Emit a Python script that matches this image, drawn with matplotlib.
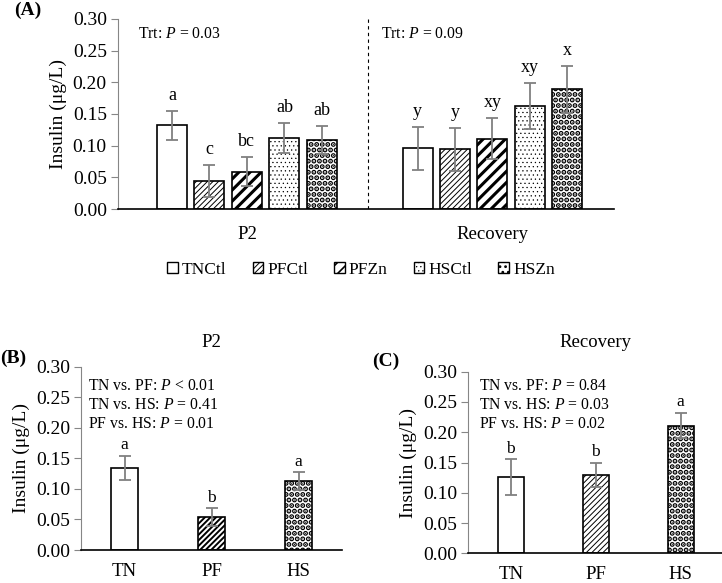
import numpy as np
import matplotlib
matplotlib.use('Agg')
import matplotlib.pyplot as plt
from matplotlib.patches import Patch

plt.rcParams['font.family'] = ['Liberation Serif', 'DejaVu Serif']
plt.rcParams['mathtext.fontset'] = 'custom'
plt.rcParams['mathtext.rm'] = 'Liberation Serif'
plt.rcParams['mathtext.it'] = 'Liberation Serif:italic'

# ---- data ----
treatments = ['TNCtl', 'PFCtl', 'PFZn', 'HSCtl', 'HSZn']
periods = ['P2', 'Recovery']
a_p2 = [0.132, 0.044, 0.059, 0.112, 0.109]
a_p2_err = [0.023, 0.025, 0.023, 0.024, 0.022]
a_p2_letters = ['a', 'c', 'bc', 'ab', 'ab']
a_rec = [0.096, 0.094, 0.111, 0.163, 0.189]
a_rec_err = [0.034, 0.034, 0.032, 0.036, 0.037]
a_rec_letters = ['y', 'y', 'xy', 'xy', 'x']
a_pvals = ['Trt: $\\it{P}$ = 0.03', 'Trt: $\\it{P}$ = 0.09']

groups = ['TN', 'PF', 'HS']
b_vals = [0.134, 0.054, 0.113]
b_err = [0.020, 0.014, 0.014]
b_letters = ['a', 'b', 'a']
b_text = ['TN vs. PF: $\\it{P}$ < 0.01', 'TN vs. HS: $\\it{P}$ = 0.41', 'PF vs. HS: $\\it{P}$ = 0.01']
c_vals = [0.126, 0.130, 0.211]
c_err = [0.029, 0.020, 0.021]
c_letters = ['b', 'b', 'a']
c_text = ['TN vs. PF: $\\it{P}$ = 0.84', 'TN vs. HS: $\\it{P}$ = 0.03', 'PF vs. HS: $\\it{P}$ = 0.02']

# hatch style: (hatch, hatch linewidth)
styles = {
    'TNCtl': ('', 1.0),
    'PFCtl': ('//////', 0.7),
    'PFZn': ('///', 2.2),
    'PFB': ('//////', 1.4),
    'HSCtl': ('....', 0.4),
    'HSZn': ('...', 2.6),
}

ERR_COLOR = '#808080'
AX_COLOR = '#868686'
TICK_FS = 14
TXT_FS = 11.3


def draw_bar(ax, x, h, err, width, style):
    hatch, hlw = styles[style]
    b = ax.bar(x, h, width=width, color='white', edgecolor='black',
               linewidth=1.2, hatch=hatch, zorder=2)[0]
    if hasattr(b, 'set_hatch_linewidth'):
        b.set_hatch_linewidth(hlw)
    ax.errorbar(x, h, yerr=err, fmt='none', ecolor=ERR_COLOR, elinewidth=1.3,
                capsize=4, capthick=1.3, zorder=3)


def style_axes(ax, xpad):
    ax.set_ylim(0, 0.30)
    ticks = np.arange(0, 0.31, 0.05)
    ax.set_yticks(ticks)
    ax.set_yticklabels([f'{v:.2f}' for v in ticks], fontsize=TICK_FS)
    ax.spines['top'].set_visible(False)
    ax.spines['right'].set_visible(False)
    ax.spines['left'].set_color(AX_COLOR)
    ax.spines['bottom'].set_color('black')
    ax.spines['bottom'].set_linewidth(1.2)
    ax.tick_params(axis='y', direction='out', length=5, color=AX_COLOR, pad=3)
    ax.tick_params(axis='x', length=0, labelsize=13.5, pad=xpad)
    ax.set_ylabel('Insulin (μg/L)', fontsize=14, labelpad=4)


fig = plt.figure(figsize=(7.22, 5.83), dpi=100)

# ---- panel A ----
axA = fig.add_axes([0.1634, 0.6415, 0.687, 0.326])
step = 0.151
w = 0.121
for g, (vals, errs, lets) in enumerate([(a_p2, a_p2_err, a_p2_letters),
                                         (a_rec, a_rec_err, a_rec_letters)]):
    center = 0.52 + g * 0.99
    for i, t in enumerate(treatments):
        x = center + (i - 2) * step
        draw_bar(axA, x, vals[i], errs[i], w, t)
        axA.annotate(lets[i], (x, vals[i] + errs[i]), xytext=(0, 5),
                     textcoords='offset points', ha='center', va='bottom',
                     fontsize=13)
axA.set_xlim(0, 2)
axA.set_xticks([0.52, 1.51])
axA.set_xticklabels(periods)
axA.axvline(1.01, color='black', linestyle=(0, (3, 3)), linewidth=0.8)
axA.text(0.08, 0.276, a_pvals[0], fontsize=TXT_FS, va='center')
axA.text(1.06, 0.276, a_pvals[1], fontsize=TXT_FS, va='center')
style_axes(axA, 12)
fig.text(0.02, 0.982, '(A)', fontsize=14, fontweight='bold', va='center')

handles = []
for t in treatments:
    p = Patch(facecolor='white', edgecolor='black', hatch=styles[t][0], label=t)
    handles.append(p)
leg = fig.legend(handles=handles, loc='center', bbox_to_anchor=(0.5, 0.537), ncol=5,
                 frameon=False, fontsize=12.5, handlelength=0.6, handleheight=0.6,
                 handletextpad=0.25, columnspacing=1.5)
for h, t in zip(leg.legend_handles, treatments):
    if hasattr(h, 'set_hatch_linewidth'):
        h.set_hatch_linewidth(min(styles[t][1], 1.2))

# ---- panels B and C ----
panels = [
    ([0.1122, 0.0566, 0.3615, 0.3144], 'P2', b_vals, b_err, b_letters, b_text,
     ['TNCtl', 'PFB', 'HSZn'], '(B)', (0.0, 0.386), 0.027, 0.895, 14),
    ([0.6486, 0.0509, 0.353, 0.3115], 'Recovery', c_vals, c_err, c_letters, c_text,
     ['TNCtl', 'PFCtl', 'HSZn'], '(C)', (0.515, 0.38), 0.042, 0.921, 17.5),
]
for pos, title, vals, errs, lets, txt, sty, lab, labpos, tx, ty, tpad in panels:
    ax = fig.add_axes(pos)
    x = np.arange(len(groups))
    for i in range(len(groups)):
        draw_bar(ax, x[i], vals[i], errs[i], 0.31, sty[i])
        ax.annotate(lets[i], (x[i], vals[i] + errs[i]), xytext=(0, 2),
                    textcoords='offset points', ha='center', va='bottom',
                    fontsize=12.5)
    ax.set_xlim(-0.5, 2.5)
    ax.set_xticks(x)
    ax.set_xticklabels(groups)
    style_axes(ax, 9)
    ax.set_title(title, fontsize=13.5, pad=tpad)
    for k, line in enumerate(txt):
        ax.text(tx, ty - k * 0.104, line, transform=ax.transAxes,
                fontsize=TXT_FS, va='center')
    fig.text(labpos[0], labpos[1], lab, fontsize=14, fontweight='bold', va='center')

fig.savefig('out.png', dpi=100)
